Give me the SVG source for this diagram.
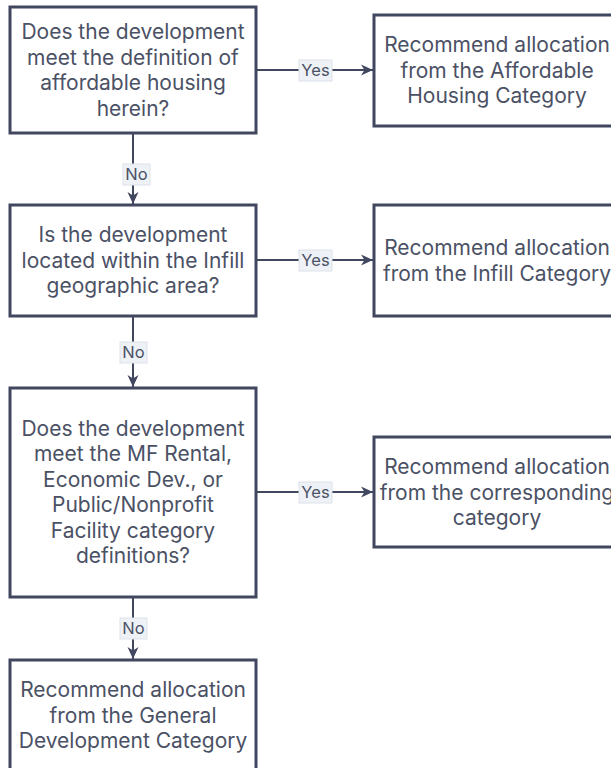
<svg xmlns="http://www.w3.org/2000/svg" width="611" height="768" viewBox="0 0 611 768">
<defs>
<style>
.box{fill:#ffffff;stroke:#41475f;stroke-width:3}
.t{font-family:Inter,"Noto Sans","Liberation Sans",sans-serif;font-size:21px;fill:#4b5165;text-anchor:middle}
.edge{stroke:#41475f;stroke-width:2;fill:none}
.lb{fill:#eef1f6;stroke:#dde1ea;stroke-width:1}
.lt{font-family:Inter,"Noto Sans","Liberation Sans",sans-serif;font-size:16.5px;fill:#4b5165;text-anchor:middle}
</style>
<marker id="ah" viewBox="0 0 12 12" refX="12" refY="6" markerWidth="12" markerHeight="12" markerUnits="userSpaceOnUse" orient="auto">
<path d="M0,0.5 L12,6 L0,11.5 L3.5,6 Z" fill="#41475f"/>
</marker>
</defs>
<rect width="611" height="768" fill="#ffffff"/>
<g id="connectors">
<line class="edge" x1="256" y1="70" x2="373" y2="70" marker-end="url(#ah)"/>
<line class="edge" x1="133" y1="133" x2="133" y2="204" marker-end="url(#ah)"/>
<line class="edge" x1="256" y1="260" x2="373" y2="260" marker-end="url(#ah)"/>
<line class="edge" x1="133" y1="316" x2="133" y2="387" marker-end="url(#ah)"/>
<line class="edge" x1="256" y1="492" x2="373" y2="492" marker-end="url(#ah)"/>
<line class="edge" x1="133" y1="597" x2="133" y2="659" marker-end="url(#ah)"/>
<g id="l1"><rect class="lb" x="299" y="60" width="33" height="21"/><text class="lt" x="315.5" y="76">Yes</text></g>
<g id="l2"><rect class="lb" x="123" y="164" width="27" height="21"/><text class="lt" x="136.5" y="180">No</text></g>
<g id="l3"><rect class="lb" x="299" y="250" width="33" height="21"/><text class="lt" x="315.5" y="266">Yes</text></g>
<g id="l4"><rect class="lb" x="120" y="342" width="27" height="21"/><text class="lt" x="133.5" y="358">No</text></g>
<g id="l5"><rect class="lb" x="299" y="482" width="33" height="21"/><text class="lt" x="315.5" y="498">Yes</text></g>
<g id="l6"><rect class="lb" x="120" y="618" width="27" height="21"/><text class="lt" x="133.5" y="634">No</text></g>
</g>
<g id="q1"><rect class="box" x="10" y="7" width="246" height="126"/>
<text class="t" x="133" y="39">Does the development</text>
<text class="t" x="133" y="64.5">meet the definition of</text>
<text class="t" x="133" y="90">affordable housing</text>
<text class="t" x="133" y="115.5">herein?</text></g>
<g id="r1"><rect class="box" x="374" y="15" width="246" height="111"/>
<text class="t" x="497" y="52">Recommend allocation</text>
<text class="t" x="497" y="77.5">from the Affordable</text>
<text class="t" x="497" y="103">Housing Category</text></g>
<g id="q2"><rect class="box" x="10" y="205" width="246" height="111"/>
<text class="t" x="133" y="242">Is the development</text>
<text class="t" x="133" y="267.5">located within the Infill</text>
<text class="t" x="133" y="293">geographic area?</text></g>
<g id="r2"><rect class="box" x="374" y="205" width="246" height="111"/>
<text class="t" x="497" y="255">Recommend allocation</text>
<text class="t" x="497" y="280.5">from the Infill Category</text></g>
<g id="q3"><rect class="box" x="10" y="388" width="246" height="209"/>
<text class="t" x="133" y="435.5">Does the development</text>
<text class="t" x="133" y="461">meet the MF Rental,</text>
<text class="t" x="133" y="486.5">Economic Dev., or</text>
<text class="t" x="133" y="512">Public/Nonprofit</text>
<text class="t" x="133" y="537.5">Facility category</text>
<text class="t" x="133" y="563">definitions?</text></g>
<g id="r3"><rect class="box" x="374" y="437" width="246" height="110"/>
<text class="t" x="497" y="474">Recommend allocation</text>
<text class="t" x="497" y="499.5">from the corresponding</text>
<text class="t" x="497" y="525">category</text></g>
<g id="r4"><rect class="box" x="10" y="660" width="246" height="111"/>
<text class="t" x="133" y="697">Recommend allocation</text>
<text class="t" x="133" y="722.5">from the General</text>
<text class="t" x="133" y="748">Development Category</text></g>
</svg>
